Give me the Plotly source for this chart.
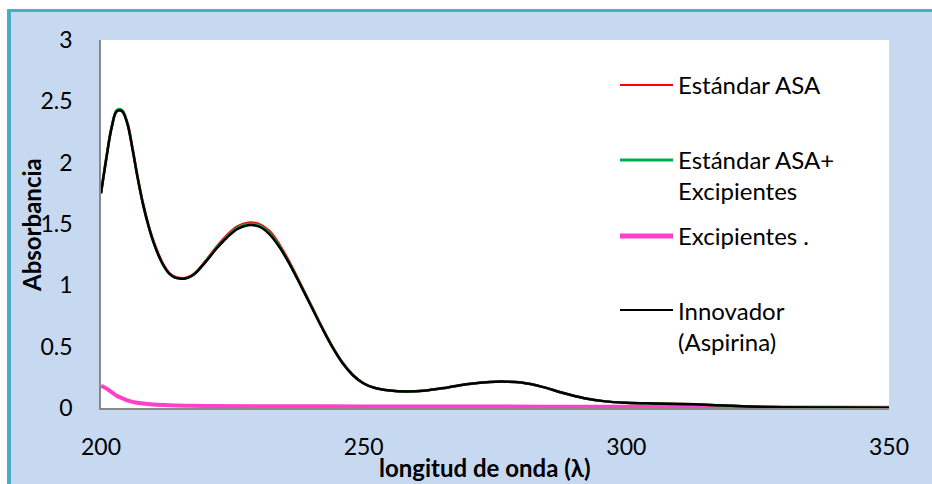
import plotly.graph_objects as go

# Wavelength grid (nm) shared by the three aspirin spectra
wavelength = [200, 201, 202, 203, 204, 205, 206, 207, 208, 209, 210, 211, 212, 213,
              214, 215, 216, 217, 218, 220, 222, 224, 226, 228, 230, 232, 234, 236,
              238, 240, 242, 244, 246, 248, 250, 252, 255, 258, 262, 266, 270, 274,
              277, 280, 284, 288, 292, 296, 300, 305, 310, 315, 320, 325, 330, 340, 350]

estandar_asa = [1.75, 2.03, 2.28, 2.42, 2.42, 2.33, 2.12, 1.88, 1.67, 1.50, 1.36, 1.25,
                1.16, 1.10, 1.07, 1.06, 1.06, 1.075, 1.105, 1.205, 1.315, 1.41, 1.48,
                1.51, 1.50, 1.445, 1.33, 1.18, 1.01, 0.84, 0.665, 0.505, 0.37, 0.268,
                0.202, 0.166, 0.142, 0.134, 0.143, 0.168, 0.195, 0.212, 0.215, 0.207,
                0.172, 0.122, 0.080, 0.054, 0.043, 0.037, 0.033, 0.027, 0.018, 0.010,
                0.006, 0.004, 0.003]

estandar_asa_exc = [1.75, 2.04, 2.29, 2.43, 2.43, 2.32, 2.11, 1.87, 1.66, 1.49, 1.35, 1.24,
                    1.155, 1.095, 1.065, 1.055, 1.055, 1.07, 1.10, 1.20, 1.305, 1.40, 1.47,
                    1.50, 1.49, 1.43, 1.32, 1.17, 1.005, 0.835, 0.66, 0.50, 0.365, 0.265,
                    0.200, 0.165, 0.142, 0.134, 0.143, 0.168, 0.195, 0.212, 0.215, 0.207,
                    0.172, 0.122, 0.080, 0.054, 0.043, 0.037, 0.033, 0.027, 0.018, 0.010,
                    0.006, 0.004, 0.003]

innovador = [1.75, 2.03, 2.28, 2.42, 2.42, 2.32, 2.11, 1.87, 1.66, 1.49, 1.35, 1.24,
             1.155, 1.095, 1.065, 1.055, 1.055, 1.07, 1.10, 1.195, 1.30, 1.39, 1.46,
             1.49, 1.48, 1.42, 1.31, 1.165, 1.00, 0.83, 0.66, 0.50, 0.365, 0.265,
             0.200, 0.165, 0.142, 0.134, 0.143, 0.168, 0.195, 0.212, 0.215, 0.207,
             0.172, 0.122, 0.080, 0.054, 0.043, 0.037, 0.033, 0.027, 0.018, 0.010,
             0.006, 0.004, 0.003]

# Excipient blank spectrum
wavelength_exc = [200, 201, 202, 203, 204, 205, 206, 208, 210, 213, 216, 220, 230,
                  250, 270, 300, 320, 335, 350]
excipientes = [0.18, 0.16, 0.13, 0.10, 0.08, 0.062, 0.05, 0.036, 0.028, 0.022, 0.019,
               0.017, 0.015, 0.013, 0.012, 0.010, 0.007, 0.004, 0.003]

series_names = ["Estándar ASA", "Estándar ASA+<br>Excipientes", "Excipientes .",
                "Innovador<br>(Aspirina)"]
series_colors = ["#FF0000", "#00B050", "#FF40C8", "#000000"]

x_ticks = [200, 250, 300, 350]
y_ticks = [0, 0.5, 1, 1.5, 2, 2.5, 3]
y_tick_text = ["0", "0.5", "1", "1.5", "2", "2.5", "3"]

W, H = 932, 484
L, R, T, B = 101, 889, 40, 408  # plot area edges in pixels

def px(x):
    return (x - L) / (R - L)

def py(y):
    return (B - y) / (B - T)

FONT = "Lato"
BG = "#C6D9F1"
BORDER = "#4BACC6"

fig = go.Figure()
fig.add_trace(go.Scatter(x=wavelength_exc, y=excipientes, mode="lines",
                         line=dict(color=series_colors[2], width=4, shape="spline"),
                         name=series_names[2]))
fig.add_trace(go.Scatter(x=wavelength, y=estandar_asa, mode="lines",
                         line=dict(color=series_colors[0], width=2.5, shape="spline"),
                         name=series_names[0]))
fig.add_trace(go.Scatter(x=wavelength, y=estandar_asa_exc, mode="lines",
                         line=dict(color=series_colors[1], width=2.5, shape="spline"),
                         name=series_names[1]))
fig.add_trace(go.Scatter(x=wavelength, y=innovador, mode="lines",
                         line=dict(color=series_colors[3], width=2.5, shape="spline"),
                         name=series_names[3]))

shapes = [
    # white strips outside the chart frame
    dict(type="rect", xref="paper", yref="paper", x0=px(-5), x1=px(7), y0=py(-5), y1=py(H + 5),
         fillcolor="white", line=dict(width=0), layer="below"),
    dict(type="rect", xref="paper", yref="paper", x0=px(-5), x1=px(W + 5), y0=py(-5), y1=py(9),
         fillcolor="white", line=dict(width=0), layer="below"),
    # chart frame
    dict(type="line", xref="paper", yref="paper", x0=px(9), x1=px(9), y0=py(9), y1=py(H + 5),
         line=dict(color=BORDER, width=4)),
    dict(type="line", xref="paper", yref="paper", x0=px(7), x1=px(W + 5), y0=py(10.5), y1=py(10.5),
         line=dict(color=BORDER, width=3)),
]

annotations = []
# legend
legend_rows = [(85, 84), (160, 175), (236, 235), (310, 326)]
legend_widths = [2, 3, 5, 2]
for (ly, ty), name, color, lw in zip(legend_rows, series_names, series_colors, legend_widths):
    shapes.append(dict(type="line", xref="paper", yref="paper", x0=px(620), x1=px(673),
                       y0=py(ly), y1=py(ly), line=dict(color=color, width=lw)))
    annotations.append(dict(text=name, xref="paper", yref="paper", x=px(676), y=py(ty),
                            xanchor="left", yanchor="middle", showarrow=False, align="left",
                            font=dict(family=FONT, size=24, color="black")))

annotations.append(dict(text="<b>Absorbancia</b>", xref="paper", yref="paper",
                        x=px(31), y=py(225), textangle=-90, showarrow=False,
                        xanchor="center", yanchor="middle",
                        font=dict(family=FONT, size=24, color="black")))
annotations.append(dict(text="<b>longitud de onda (λ)</b>", xref="paper", yref="paper",
                        x=px(485), y=py(467), showarrow=False,
                        xanchor="center", yanchor="middle",
                        font=dict(family=FONT, size=24, color="black")))

fig.update_layout(
    width=W, height=H, autosize=False,
    margin=dict(l=L, r=W - R, t=T, b=H - B, pad=0),
    paper_bgcolor=BG, plot_bgcolor="white",
    showlegend=False,
    shapes=shapes, annotations=annotations,
    font=dict(family=FONT, size=23, color="black"),
)
fig.update_xaxes(range=[200, 350], tickvals=x_ticks, showgrid=False, zeroline=False,
                 showline=True, linecolor="#898989", linewidth=1.5, ticks="",
                 ticklabelstandoff=18, tickfont=dict(family=FONT, size=23))
fig.update_yaxes(range=[0, 3], tickvals=y_ticks, ticktext=y_tick_text, showgrid=False,
                 zeroline=False, showline=True, linecolor="#898989", linewidth=1.5,
                 ticks="", ticklabelstandoff=22, tickfont=dict(family=FONT, size=23))

fig.write_html("out.html")
